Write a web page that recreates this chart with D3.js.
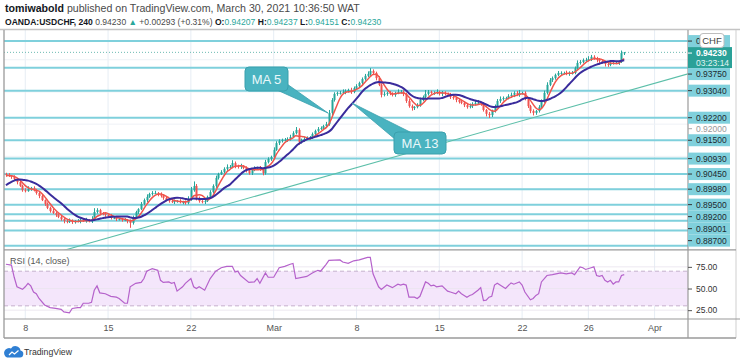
<!DOCTYPE html>
<html><head><meta charset="utf-8">
<script src="https://cdn.jsdelivr.net/npm/d3@7"></script>
<style>
body{margin:0;background:#fff;}
svg{display:block;font-family:"Liberation Sans",Arial,sans-serif;}
</style>
</head><body>
<svg id="c" width="740" height="364"></svg>
<script>
// ---------- DATA ----------
const warmupCloses = [0.8965,0.8972,0.8980,0.8988,0.8995,0.9003,0.9010,0.9020,0.9035,0.9040,0.9042,0.9041];
const firstOpen = 0.9045;
const closes = [
0.9042,0.9039,0.9036,0.9030,0.9020,0.9008,0.8995,0.8992,0.8999,0.9002,
0.8995,0.8986,0.8977,0.8964,0.8952,0.8940,0.8930,0.8924,0.8918,0.8912,
0.8905,0.8899,0.8896,0.8899,0.8896,0.8899,0.8899,0.8902,0.8899,0.8902,
0.8899,0.8905,0.8927,0.8933,0.8924,0.8921,0.8918,0.8915,0.8909,0.8909,
0.8905,0.8905,0.8902,0.8902,0.8899,0.8893,0.8909,0.8927,0.8936,0.8952,
0.8964,0.8974,0.8983,0.8986,0.8986,0.8983,0.8977,0.8971,0.8964,0.8961,
0.8958,0.8961,0.8961,0.8958,0.8958,0.8955,0.8968,0.8995,0.9008,0.8971,
0.8961,0.8958,0.8961,0.8974,0.8989,0.9008,0.9033,0.9045,0.9051,0.9061,
0.9067,0.9067,0.9079,0.9070,0.9067,0.9070,0.9064,0.9058,0.9048,0.9058,
0.9064,0.9064,0.9061,0.9048,0.9082,0.9092,0.9098,0.9120,0.9141,0.9148,
0.9151,0.9151,0.9154,0.9160,0.9172,0.9182,0.9145,0.9151,0.9154,0.9157,
0.9160,0.9169,0.9179,0.9185,0.9188,0.9194,0.9200,0.9235,0.9275,0.9294,
0.9297,0.9297,0.9300,0.9303,0.9306,0.9300,0.9312,0.9318,0.9328,0.9340,
0.9350,0.9356,0.9365,0.9359,0.9343,0.9322,0.9291,0.9294,0.9297,0.9294,
0.9291,0.9297,0.9300,0.9300,0.9294,0.9272,0.9256,0.9250,0.9253,0.9259,
0.9275,0.9284,0.9294,0.9300,0.9297,0.9297,0.9300,0.9294,0.9297,0.9294,
0.9291,0.9284,0.9281,0.9275,0.9269,0.9266,0.9259,0.9253,0.9256,0.9263,
0.9266,0.9266,0.9263,0.9244,0.9232,0.9228,0.9241,0.9256,0.9272,0.9278,
0.9281,0.9281,0.9287,0.9291,0.9297,0.9291,0.9297,0.9297,0.9278,0.9256,
0.9241,0.9235,0.9241,0.9253,0.9272,0.9297,0.9322,0.9337,0.9343,0.9353,
0.9359,0.9359,0.9359,0.9356,0.9359,0.9359,0.9374,0.9390,0.9393,0.9399,
0.9399,0.9402,0.9409,0.9405,0.9399,0.9396,0.9393,0.9387,0.9384,0.9390,
0.9390,0.9390,0.9393,0.94207,0.94230];
// wick extents in pips (0.0001) above the body top / below the body bottom
const wickUp = [
4,6,3,5,2,7,4,6,8,3, 5,4,3,6,2,5,4,7,3,5, 6,3,4,8,5,3,6,4,5,7, 3,9,12,6,4,3,5,2,6,4,
5,3,4,6,3,5,7,4,3,6, 5,8,4,6,7,3,5,4,6,3, 4,5,3,6,4,5,8,10,14,6, 4,3,5,4,6,5,7,4,6,5,
8,6,9,5,4,7,3,5,4,6, 5,4,6,3,7,5,4,8,6,5, 4,6,5,7,6,9,5,4,6,5, 3,5,4,6,5,4,7,9,6,5,
4,6,8,5,4,7,5,6,4,5, 6,8,9,5,4,6,5,7,4,6, 5,4,8,6,5,4,6,5,3,6, 7,5,12,6,4,5,8,4,6,5,
4,6,5,3,6,4,5,7,8,5, 6,9,4,5,3,6,4,5,6,8, 5,4,6,7,5,6,9,4,5,6, 4,5,3,6,5,7,8,6,5,4,
6,5,4,7,5,6,5,8,6,5, 7,9,6,5,4,6,5,4,7,5, 4,6,5,8,1];
const wickDn = [
5,3,6,4,7,3,5,4,2,6, 4,5,7,3,6,4,5,3,6,4, 5,7,4,3,6,5,4,7,3,5, 4,6,3,5,7,4,6,3,5,4,
6,4,5,3,7,15,5,4,6,3, 4,6,3,5,4,7,5,6,4,5, 3,6,5,4,7,5,4,6,5,8, 5,4,6,3,5,4,6,5,3,4,
6,5,4,7,5,6,4,8,5,6, 4,5,6,7,5,4,6,5,3,6, 5,4,6,5,3,4,9,5,6,4, 5,6,4,5,3,6,4,5,7,5,
6,5,4,7,5,6,4,5,3,6, 5,4,6,5,7,4,8,5,6,4, 5,6,4,5,7,6,5,8,6,4, 5,4,6,5,3,6,4,5,7,5,
4,6,5,7,5,4,6,5,4,6, 5,4,6,5,8,9,6,5,4,6, 5,6,4,5,7,4,6,5,4,6, 7,8,6,5,4,6,5,4,6,5,
4,6,5,4,6,5,4,6,5,4, 5,4,6,5,7,6,5,8,6,4, 5,4,6,3,6];
const rsiBars = [0,2,3,4,6,7,8,9,10,11,12,14,16,18,20,21,23,24,26,27,28,30,31,32,33,34,36,38,40,41,43,44,45,47,49,50,51,53,55,56,57,59,60,61,62,64,65,67,68,69,70,72,74,76,78,80,82,83,84,85,88,90,91,92,94,95,97,99,101,103,104,105,109,111,113,114,116,117,121,122,124,126,128,131,132,133,135,136,138,140,142,143,144,145,146,148,149,150,152,153,154,155,156,158,160,161,163,164,165,166,167,168,169,171,172,173,174,175,176,177,178,180,181,183,184,186,187,188,190,191,192,193,194,196,198,201,203,205,206,208,209,210,212,213,214,215,216,217,218,219,220,221,222,223,224];
const rsiValues = [78,77,63,52,49,52,56,53,46,44,38.5,31,28,27,26,23,22,27,28,28,33,33,34,48,53,45,44,41,40,38.5,33,33,52,56,57,61.5,70,73,71,59.5,57,57.6,56,57,47,52,56,61.5,52,50,52,48,61.5,70,74,75.6,75.6,69,70,65,57,57.6,61.5,56,68,63,63,74,75.6,78,79,61.5,64,68,71,70,78,82.5,83,80.6,79,82,83,86,86,67,52,49,54,51,55,54,55,54,40,40,38.5,41,57.6,56,53,54,52,53,47,46,44,47,44,42,40,42,43,48,51,36,36.5,40,41,54,56,52,50,56.5,55,57.6,54,46,37,38.5,42,44,57.6,65,66,68,67,68,66,75,74,72,74,75,65,64,65,59.5,57.6,59.5,55,57.6,57.6,65,66];
const levelPrices = [0.9458,0.9375,0.9304,0.9220,0.9150,0.9093,0.9045,0.8998,0.8950,0.8920,0.89001,0.8870,0.8822];
const levelLabels = ["0","0.93750","0.93040","0.92200","0.91500","0.90930","0.90450","0.89980","0.89500","0.89200","0.89001","0.88700",""];
const priceTicks = [0.89,0.90,0.91,0.92,0.93,0.94];
const rsiTicks = [25,50,75];
const rsiBand = [30,70];
const dateTickBars = [7,37,67,97,127,157,187,211,235];
const dateTickLabels = ["8","15","22","Mar","8","15","22","26","Apr"];
const lastPrice = 0.94230;
const countdown = "03:23:14";
const trendBars = [45,187];
const trendPrices = [0.88662,0.92104];
const maPeriods = [5,13];
const maNames = ["MA 5","MA 13"];

// ---------- SCALES ----------
const svg = d3.select("#c");
const PL=4, PR=688, MT=30, MB=249.5, RT=250.5, RB=319, AXB=338, RE=736;
const x = d3.scaleLinear().domain([-0.7, 247.1]).range([PL, PR]);
const y = d3.scaleLinear().domain([0.88153, 0.94924]).range([248, 30]);
const ry = d3.scaleLinear().domain([14.8, 93.9]).range([RB, RT]);

const defs = svg.append("defs");
defs.append("clipPath").attr("id","cm").append("rect").attr("x",PL).attr("y",MT).attr("width",PR-PL).attr("height",MB-MT);
defs.append("clipPath").attr("id","cr").append("rect").attr("x",PL).attr("y",RT).attr("width",PR-PL).attr("height",RB-RT);
defs.append("clipPath").attr("id","ca").append("rect").attr("x",PR).attr("y",MT).attr("width",RE-PR).attr("height",MB-MT);

svg.append("rect").attr("width",740).attr("height",364).attr("fill","#fff");

// ---------- GRID ----------
const gm = svg.append("g").attr("clip-path","url(#cm)");
const gr = svg.append("g").attr("clip-path","url(#cr)");
[gm,gr].forEach((g,k)=>{
  g.selectAll("line.v").data(dateTickBars).join("line")
    .attr("x1",d=>x(d)).attr("x2",d=>x(d))
    .attr("y1",k?RT:MT).attr("y2",k?RB:MB)
    .attr("stroke","#e6edf4").attr("stroke-width",1);
});
gm.selectAll("line.h").data(priceTicks).join("line")
  .attr("x1",PL).attr("x2",PR).attr("y1",d=>y(d)).attr("y2",d=>y(d))
  .attr("stroke","#eef2f6");

// RSI band
gr.append("rect").attr("x",PL).attr("width",PR-PL)
  .attr("y",ry(rsiBand[1])).attr("height",ry(rsiBand[0])-ry(rsiBand[1]))
  .attr("fill","#f4e6fb");
gr.selectAll("line.g").data(rsiTicks).join("line")
  .attr("x1",PL).attr("x2",PR).attr("y1",d=>ry(d)).attr("y2",d=>ry(d))
  .attr("stroke","#e9e3ee").attr("stroke-width",0.8);
gr.selectAll("line.b").data(rsiBand).join("line")
  .attr("x1",PL).attr("x2",PR).attr("y1",d=>ry(d)).attr("y2",d=>ry(d))
  .attr("stroke","#c6b1cd").attr("stroke-dasharray","4,3");

// ---------- LEVEL LINES ----------
gm.selectAll("line.lvl").data(levelPrices).join("line")
  .attr("x1",PL).attr("x2",PR).attr("y1",d=>y(d)).attr("y2",d=>y(d))
  .attr("stroke","#7fd0dc").attr("stroke-width",2);

// trend line
const slope = (trendPrices[1]-trendPrices[0])/(trendBars[1]-trendBars[0]);
const tl = x.domain().map(b=>[b, trendPrices[0]+slope*(b-trendBars[0])]);
gm.append("line").attr("x1",x(tl[0][0])).attr("y1",y(tl[0][1]))
  .attr("x2",x(tl[1][0])).attr("y2",y(tl[1][1]))
  .attr("stroke","#5cbfa9").attr("stroke-width",1.1);

// current price dotted line
gm.append("line").attr("x1",PL).attr("x2",PR).attr("y1",y(lastPrice)).attr("y2",y(lastPrice))
  .attr("stroke","#6cbab2").attr("stroke-dasharray","1,2");

// ---------- CANDLES ----------
const bars = closes.map((c,i)=>{
  const o = i===0 ? firstOpen : closes[i-1];
  const top = Math.max(o,c), bot = Math.min(o,c);
  return {i,o,c,h:top+wickUp[i]*0.0001,l:bot-wickDn[i]*0.0001};
});
const UP="#26a69a", DN="#ef5350";
const cg = gm.append("g");
cg.selectAll("line.w").data(bars).join("line")
  .attr("x1",d=>Math.round(x(d.i))+0.5).attr("x2",d=>Math.round(x(d.i))+0.5)
  .attr("y1",d=>y(d.h)).attr("y2",d=>y(d.l))
  .attr("stroke",d=>d.c>=d.o?UP:DN).attr("stroke-width",1);
cg.selectAll("rect").data(bars).join("rect")
  .attr("x",d=>Math.round(x(d.i))-0.5).attr("width",2)
  .attr("y",d=>y(Math.max(d.o,d.c)))
  .attr("height",d=>Math.max(1,y(Math.min(d.o,d.c))-y(Math.max(d.o,d.c))))
  .attr("fill",d=>d.c>=d.o?UP:DN);

// ---------- MOVING AVERAGES ----------
const all = warmupCloses.concat(closes), W0 = warmupCloses.length;
function sma(n){ return closes.map((c,i)=>({i, v:d3.mean(all.slice(i+W0-n+1, i+W0+1))})); }
const line = d3.line().x(d=>x(d.i)).y(d=>y(d.v)).curve(d3.curveMonotoneX);
const maColors = ["#f0554c","#3a2c9c"], maW=[1.5,2];
maPeriods.forEach((n,k)=>{
  gm.append("path").attr("d",line(sma(n))).attr("fill","none")
    .attr("stroke",maColors[k]).attr("stroke-width",maW[k]);
});

// ---------- CALLOUTS ----------
const callouts = [
  {t:maNames[0], box:[245,67,43,24], wedge:[[277,90],[287,84],[328,113]]},
  {t:maNames[1], box:[394,132,52,22], wedge:[[352,103],[396,140],[412,133]]}
];
callouts.forEach(c=>{
  const g = svg.append("g");
  g.append("path").attr("d","M"+c.wedge.map(p=>p.join(",")).join("L")+"Z")
    .attr("fill","#49b3c0").attr("stroke","#3aa0ad").attr("stroke-width",0.8);
  g.append("rect").attr("x",c.box[0]).attr("y",c.box[1]).attr("width",c.box[2]).attr("height",c.box[3])
    .attr("rx",4).attr("fill","#49b3c0").attr("stroke","#3aa0ad");
  g.append("text").attr("x",c.box[0]+c.box[2]/2).attr("y",c.box[1]+c.box[3]/2+4.5)
    .attr("text-anchor","middle").attr("font-size",13).attr("fill","#e9f8fa").text(c.t);
});

// ---------- RSI ----------
const rsiPts = rsiBars.map((b,k)=>({i:b,v:rsiValues[k]}));
gr.append("path").attr("d",d3.line().x(d=>x(d.i)).y(d=>ry(d.v))(rsiPts))
  .attr("fill","none").attr("stroke","#b562cb").attr("stroke-width",1.2);
svg.append("text").attr("x",10).attr("y",264).attr("font-size",9).attr("fill","#555").text("RSI (14, close)");

// ---------- FRAME ----------
const fr = svg.append("g").attr("stroke","#9a9a9a").attr("fill","none");
fr.append("line").attr("x1",0).attr("x2",740).attr("y1",29.5).attr("y2",29.5).attr("stroke","#c4c4c4").attr("stroke-width",1.3);
fr.append("line").attr("x1",PL).attr("x2",PL).attr("y1",30).attr("y2",AXB).attr("stroke-width",1.3);
fr.append("line").attr("x1",PR).attr("x2",PR).attr("y1",30).attr("y2",AXB).attr("stroke-width",1.2);
fr.append("line").attr("x1",RE).attr("x2",RE).attr("y1",30).attr("y2",AXB).attr("stroke","#cfcfcf");
fr.append("line").attr("x1",PL).attr("x2",RE).attr("y1",MB+0.3).attr("y2",MB+0.3).attr("stroke-width",1.3);
fr.append("line").attr("x1",PL).attr("x2",740).attr("y1",RB).attr("y2",RB).attr("stroke-width",1.2);
fr.append("line").attr("x1",PL).attr("x2",RE).attr("y1",AXB).attr("y2",AXB).attr("stroke-width",1.3);

// ---------- AXES ----------
const xa = svg.append("g").attr("transform",`translate(0,${RB})`)
  .call(d3.axisBottom(x).tickValues(dateTickBars).tickFormat((d,i)=>dateTickLabels[i]).tickSize(0).tickPadding(6));
xa.select(".domain").remove();
xa.selectAll("text").attr("font-size",9).attr("fill","#555").attr("font-family","Liberation Sans,Arial");

const ra = svg.append("g").attr("transform",`translate(${PR},0)`)
  .call(d3.axisRight(ry).tickValues(rsiTicks).tickFormat(d3.format(".2f")).tickSize(4).tickPadding(4));
ra.select(".domain").remove();
ra.selectAll("text").attr("font-size",8.5).attr("fill","#333").attr("font-family","Liberation Sans,Arial");
ra.selectAll("line").attr("stroke","#555");

// price axis: level labels stacked, gray scale ticks only where uncovered
const pa = svg.append("g").attr("clip-path","url(#ca)");
const items = levelPrices.map((p,k)=>({ny:y(p),label:levelLabels[k],h:12,off:6,kind:"lvl"}))
  .filter(d=>d.label);
items.push({ny:y(lastPrice),label:d3.format(".5f")(lastPrice),h:21,off:6,kind:"cur"});
items.sort((a,b)=>a.ny-b.ny);
let prevB=-1e9;
items.forEach(it=>{ it.top=Math.max(it.ny-it.off,prevB); it.cy=it.top+it.off; prevB=it.top+it.h; });

// gray ticks: hidden when under a label box, pushed just below a box they touch
const tickPos = priceTicks.map(p=>{
  let cy=y(p), hidden=false;
  items.forEach(it=>{
    const b=it.top+it.h;
    if(cy>it.top-4 && cy<b+4) { if(cy>b-2) cy=b+5; else hidden=true; }
  });
  return {p,cy,hidden};
}).filter(d=>!d.hidden);
const pg = pa.append("g");
pg.selectAll("line").data(tickPos).join("line").attr("x1",PR).attr("x2",PR+4)
  .attr("y1",d=>d.cy).attr("y2",d=>d.cy).attr("stroke","#aaa");
pg.selectAll("text").data(tickPos).join("text").attr("x",PR+8).attr("y",d=>d.cy+3)
  .attr("font-size",8.5).attr("fill","#999").text(d=>d3.format(".5f")(d.p));

items.forEach(it=>{
  const cur = it.kind==="cur";
  pa.append("rect").attr("x",PR).attr("y",it.top).attr("width",cur?44:42).attr("height",it.h)
    .attr("fill",cur?"#2aa198":"#80d0dc");
  pa.append("line").attr("x1",PR).attr("x2",PR+4).attr("y1",it.cy).attr("y2",it.cy)
    .attr("stroke",cur?"#fff":"#333");
  pa.append("text").attr("x",PR+8).attr("y",it.cy+3).attr("font-size",8.5)
    .attr("fill",cur?"#fff":"#1c2a30").attr("font-weight",cur?"bold":"normal").text(it.label);
  if(cur) pa.append("text").attr("x",PR+8).attr("y",it.cy+13).attr("font-size",8.5)
    .attr("fill","#e0f4f2").text(countdown);
});
// CHF badge (covers the top label)
svg.append("rect").attr("x",700).attr("y",33.5).attr("width",24).attr("height",14).attr("rx",3)
  .attr("fill","#fff").attr("stroke","#bdbdbd");
svg.append("text").attr("x",712).attr("y",44).attr("text-anchor","middle").attr("font-size",9.5)
  .attr("fill","#444").text("CHF");

// ---------- HEADER ----------
function fitText(t, target){
  const base=+t.attr("font-size"); const w=t.node().getComputedTextLength();
  if(w>0) t.attr("font-size", (base*target/w).toFixed(2));
}
const h1 = svg.append("text").attr("x",5).attr("y",11.5).attr("font-size",10.5).style("white-space","pre");
h1.append("tspan").attr("font-weight","bold").attr("fill","#131722").text("tomiwabold");
h1.append("tspan").attr("fill","#4a4a4a").text(" published on TradingView.com, March 30, 2021 10:36:50 WAT");
fitText(h1,355);
const TEAL="#2aa79b";
const h2 = svg.append("text").attr("x",5).attr("y",24.5).attr("font-size",10.5).style("white-space","pre");
const parts = [["OANDA:USDCHF, 240","#131722",1],[" 0.94230 ","#4a4a4a",0],["▲",TEAL,0],[" +0.00293 (+0.31%) ","#4a4a4a",0],
 ["O:","#131722",1],["0.94207",TEAL,0],[" H:","#131722",1],["0.94237",TEAL,0],[" L:","#131722",1],["0.94151",TEAL,0],[" C:","#131722",1],["0.94230",TEAL,0]];
parts.forEach(p=>h2.append("tspan").attr("fill",p[1]).attr("font-weight",p[2]?"bold":"normal").text(p[0]));
fitText(h2,377);

// ---------- LOGO ----------
const lg = svg.append("g");
lg.append("path").attr("d","M7,357.5 L20,357.5 A3.6,3.6 0 0 0 20.5,350.4 A5.2,5.2 0 0 0 11,348.5 A4,4 0 0 0 7,357.5 Z")
  .attr("fill","#2f7fd3");
lg.append("path").attr("d","M9,355 L12,352 L14.5,354 L18.5,350.5").attr("fill","none").attr("stroke","#fff").attr("stroke-width",1.2);
const lt = lg.append("text").attr("x",24).attr("y",355).attr("font-size",10.5).attr("fill","#333").text("TradingView");
fitText(lt,48);
</script>
</body></html>
